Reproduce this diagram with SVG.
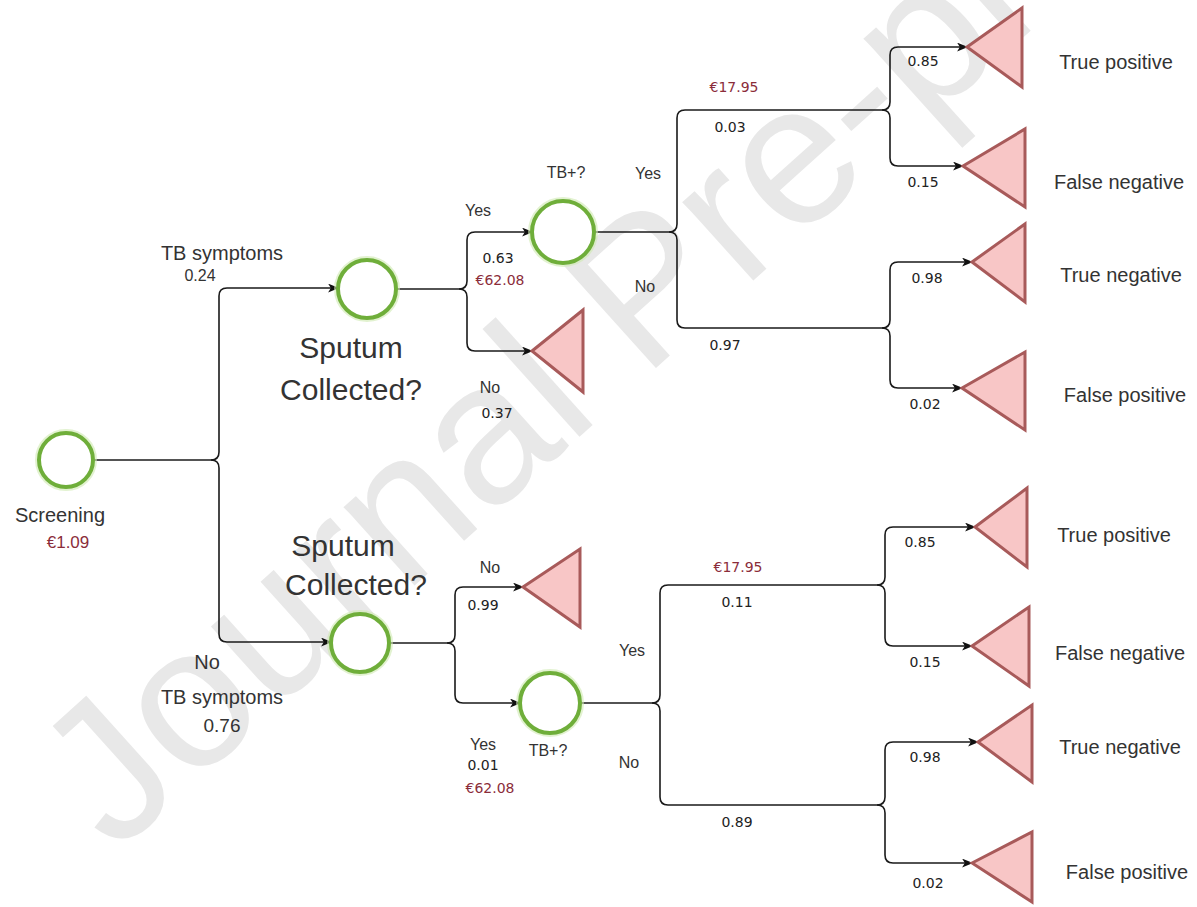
<svg xmlns="http://www.w3.org/2000/svg" width="1197" height="907" viewBox="0 0 1197 907">
<defs>
<marker id="arr" viewBox="0 0 10 8" refX="9" refY="4" markerWidth="11" markerHeight="9" markerUnits="userSpaceOnUse" orient="auto">
<path d="M0,0 L10,4 L0,8 L2.5,4 Z" fill="#111"/>
</marker>
</defs>
<style>
.wm{font-family:"Liberation Sans",Arial,sans-serif;font-size:200px;fill:#e8e8e8}
.chance .halo{fill:none;stroke:#cfeab0;stroke-width:8;opacity:0.6}
.chance .ring{fill:#fff;stroke:#6fae3a;stroke-width:4}
.term{fill:#f8c6c6;stroke:#a85a5a;stroke-width:3;stroke-linejoin:miter}
.ln{fill:none;stroke:#1a1a1a;stroke-width:1.6}
.arw{marker-end:url(#arr)}
.lbl{font-family:"Liberation Sans",Arial,sans-serif;fill:#333;text-anchor:middle}
.big{font-size:20px}
.sm{font-size:16px}
.xl{font-size:30px}
.num{font-family:"DejaVu Sans",Verdana,sans-serif;font-size:14px;fill:#222;text-anchor:middle}
.cost{fill:#8b2d3a}
</style>
<rect width="1197" height="907" fill="#fff"/>
<text class="wm" x="115" y="855" transform="rotate(-42 115 855)">Journal Pre-proof</text>

<g id="connectors">
<path class="ln" d="M94,460 H211"/>
<path class="ln arw" d="M211,460 Q219,460 219,452 V296 Q219,288 227,288 H338"/>
<path class="ln arw" d="M211,460 Q219,460 219,468 V634 Q219,642 227,642 H331"/>
<path class="ln" d="M396,289 H459"/>
<path class="ln arw" d="M459,289 Q467,289 467,281 V240 Q467,232 475,232 H532"/>
<path class="ln arw" d="M459,289 Q467,289 467,297 V343 Q467,351 475,351 H532"/>
<path class="ln" d="M594,232 H669"/>
<path class="ln" d="M669,232 Q677,232 677,224 V118 Q677,110 685,110 H882"/>
<path class="ln" d="M669,232 Q677,232 677,240 V320 Q677,328 685,328 H882"/>
<path class="ln arw" d="M882,110 Q890,110 890,102 V55 Q890,47 898,47 H967"/>
<path class="ln arw" d="M882,110 Q890,110 890,118 V158 Q890,166 898,166 H963"/>
<path class="ln arw" d="M882,328 Q890,328 890,320 V270 Q890,262 898,262 H972"/>
<path class="ln arw" d="M882,328 Q890,328 890,336 V380 Q890,388 898,388 H962"/>
<path class="ln" d="M389,643 H447"/>
<path class="ln arw" d="M447,643 Q455,643 455,635 V595 Q455,587 463,587 H523"/>
<path class="ln arw" d="M447,643 Q455,643 455,651 V695 Q455,703 463,703 H520"/>
<path class="ln" d="M580,703 H652"/>
<path class="ln" d="M652,703 Q660,703 660,695 V593 Q660,585 668,585 H877"/>
<path class="ln" d="M652,703 Q660,703 660,711 V797 Q660,805 668,805 H877"/>
<path class="ln arw" d="M877,585 Q885,585 885,577 V535 Q885,527 893,527 H975"/>
<path class="ln arw" d="M877,585 Q885,585 885,593 V638 Q885,646 893,646 H972"/>
<path class="ln arw" d="M877,805 Q885,805 885,797 V750 Q885,742 893,742 H978"/>
<path class="ln arw" d="M877,805 Q885,805 885,813 V855 Q885,863 893,863 H972"/>
</g>

<g id="screening" class="chance">
<circle class="halo" cx="66" cy="460" r="27"/>
<circle class="ring" cx="66" cy="460" r="27"/>
<text class="lbl big" x="60" y="522">Screening</text>
<text class="lbl cost" x="68" y="548" font-size="17">€1.09</text>
</g>

<g id="sputum-symptoms" class="chance">
<circle class="halo" cx="367" cy="289" r="29"/>
<circle class="ring" cx="367" cy="289" r="29"/>
<text class="lbl xl" x="351" y="358">Sputum</text>
<text class="lbl xl" x="351" y="400">Collected?</text>
</g>

<g id="tb-symptoms" class="chance">
<circle class="halo" cx="563" cy="232" r="31"/>
<circle class="ring" cx="563" cy="232" r="31"/>
<text class="lbl" x="566" y="178" font-size="16">TB+?</text>
</g>

<g id="no-sputum-symptoms">
<polygon class="term" points="532,351 583,310 583,392"/>
</g>

<g id="tp1"><polygon class="term" points="967,47 1022,8 1022,87"/><text class="lbl big" x="1116" y="69">True positive</text></g>
<g id="fn1"><polygon class="term" points="963,166 1025,129 1025,207"/><text class="lbl big" x="1119" y="189">False negative</text></g>
<g id="tn1"><polygon class="term" points="972,262 1025,224 1025,302"/><text class="lbl big" x="1121" y="282">True negative</text></g>
<g id="fp1"><polygon class="term" points="962,388 1025,352 1025,430"/><text class="lbl big" x="1125" y="402">False positive</text></g>

<g id="sputum-nosymptoms" class="chance">
<circle class="halo" cx="360" cy="643" r="29"/>
<circle class="ring" cx="360" cy="643" r="29"/>
<text class="lbl xl" x="343" y="556">Sputum</text>
<text class="lbl xl" x="356" y="595">Collected?</text>
</g>

<g id="no-sputum-nosymptoms">
<polygon class="term" points="523,587 580,549 580,627"/>
</g>

<g id="tb-nosymptoms" class="chance">
<circle class="halo" cx="550" cy="703" r="30"/>
<circle class="ring" cx="550" cy="703" r="30"/>
<text class="lbl" x="548" y="756" font-size="16">TB+?</text>
</g>

<g id="tp2"><polygon class="term" points="975,527 1027,488 1027,567"/><text class="lbl big" x="1114" y="542">True positive</text></g>
<g id="fn2"><polygon class="term" points="972,646 1029,607 1029,686"/><text class="lbl big" x="1120" y="660">False negative</text></g>
<g id="tn2"><polygon class="term" points="978,742 1032,705 1032,782"/><text class="lbl big" x="1120" y="754">True negative</text></g>
<g id="fp2"><polygon class="term" points="972,863 1032,832 1032,902"/><text class="lbl big" x="1127" y="879">False positive</text></g>

<g id="labels">
<text class="lbl big" x="222" y="260">TB symptoms</text>
<text class="lbl" x="200" y="281" font-size="16">0.24</text>
<text class="lbl big" x="207" y="669">No</text>
<text class="lbl big" x="222" y="704">TB symptoms</text>
<text class="lbl" x="222" y="732" font-size="19">0.76</text>

<text class="lbl sm" x="478" y="216">Yes</text>
<text class="num" x="498" y="263">0.63</text>
<text class="num cost" x="500" y="285">€62.08</text>
<text class="lbl sm" x="490" y="393">No</text>
<text class="num" x="497" y="418">0.37</text>

<text class="lbl sm" x="648" y="179">Yes</text>
<text class="lbl sm" x="645" y="292">No</text>
<text class="num cost" x="734" y="92" font-size="15">€17.95</text>
<text class="num" x="730" y="132">0.03</text>
<text class="num" x="725" y="350">0.97</text>
<text class="num" x="923" y="66">0.85</text>
<text class="num" x="923" y="187">0.15</text>
<text class="num" x="927" y="283">0.98</text>
<text class="num" x="925" y="409">0.02</text>

<text class="lbl sm" x="490" y="573">No</text>
<text class="num" x="483" y="610">0.99</text>
<text class="lbl sm" x="483" y="750">Yes</text>
<text class="num" x="483" y="770">0.01</text>
<text class="num cost" x="490" y="793">€62.08</text>

<text class="num cost" x="738" y="572" font-size="15">€17.95</text>
<text class="num" x="737" y="607">0.11</text>
<text class="lbl sm" x="632" y="656">Yes</text>
<text class="lbl sm" x="629" y="768">No</text>
<text class="num" x="737" y="827">0.89</text>
<text class="num" x="920" y="547">0.85</text>
<text class="num" x="925" y="667">0.15</text>
<text class="num" x="925" y="762">0.98</text>
<text class="num" x="928" y="888">0.02</text>
</g>
</svg>
